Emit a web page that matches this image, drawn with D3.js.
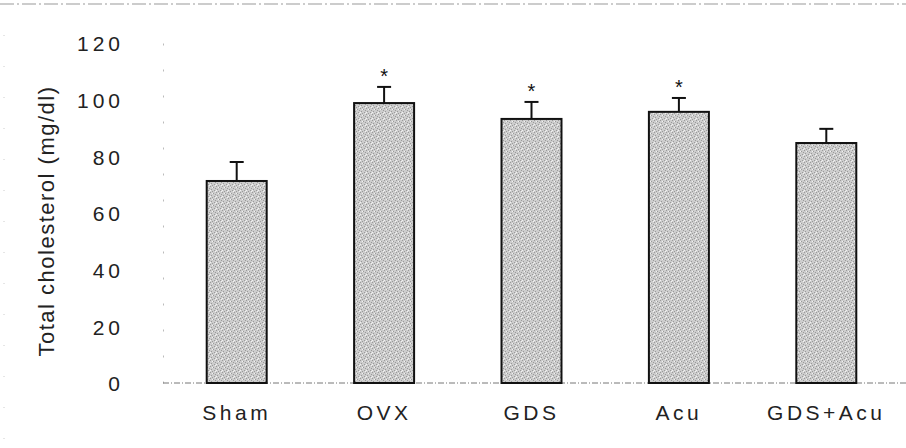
<!DOCTYPE html>
<html><head><meta charset="utf-8">
<script src="https://cdn.jsdelivr.net/npm/d3@7"></script>
<style>body{margin:0;background:#fff}svg{display:block;font-family:"Liberation Sans",Arial,sans-serif}</style>
</head><body><svg id="c" width="906" height="448"></svg>
<script>
const categories = ["Sham","OVX","GDS","Acu","GDS+Acu"];
const means = [71.3, 98.8, 93.2, 95.7, 84.7];
const errors = [6.7, 5.7, 6.0, 4.9, 5.0];
const significant = [false, true, true, true, false];
const yTicks = [0,20,40,60,80,100,120];
const yTitle = "Total cholesterol (mg/dl)";

const svg = d3.select("#c");
const x = d3.scaleBand().domain(categories).range([163, 900]).paddingInner(0.593).paddingOuter(0.2965);
const y = d3.scaleLinear().domain([0,120]).range([383, 43]);

// stipple pattern (deterministic)
const defs = svg.append("defs");
const pat = defs.append("pattern").attr("id","stip").attr("patternUnits","userSpaceOnUse").attr("width",6).attr("height",6);
pat.append("rect").attr("width",6).attr("height",6).attr("fill","#cdcdcd");
[[0,0],[3,1],[1,3],[4,4],[2,5],[5,2]].forEach(([a,b])=>pat.append("rect").attr("x",a).attr("y",b).attr("width",1).attr("height",1).attr("fill","#9a9a9a"));
[[2,1],[5,5],[0,4]].forEach(([a,b])=>pat.append("rect").attr("x",a).attr("y",b).attr("width",1).attr("height",1).attr("fill","#f2f2f2"));

// frame lines
svg.append("line").attr("x1",0).attr("x2",906).attr("y1",4).attr("y2",4).attr("stroke","#999").attr("stroke-width",1).attr("stroke-dasharray","14,3,2,3");
svg.append("line").attr("x1",4).attr("x2",4).attr("y1",4).attr("y2",440).attr("stroke","#ccc").attr("stroke-width",1).attr("stroke-dasharray","1,30");

// y axis (faint dotted)
const yAxis = d3.axisLeft(y).tickValues(yTicks).tickSize(0).tickPadding(39);
const gy = svg.append("g").attr("transform","translate(163,0)").call(yAxis);
gy.select(".domain").attr("stroke","#bbb").attr("stroke-dasharray","2,24");
gy.selectAll("text").attr("font-size",21).attr("fill","#222").attr("letter-spacing","4px").attr("dy","0.38em");

// baseline
svg.append("line").attr("x1",163).attr("x2",906).attr("y1",y(0)).attr("y2",y(0)).attr("stroke","#777").attr("stroke-width",1).attr("stroke-dasharray","6,2,1,2");

// bars
svg.selectAll("rect.bar").data(categories).join("rect").attr("class","bar")
  .attr("x",d=>x(d)).attr("width",x.bandwidth())
  .attr("y",(d,i)=>y(means[i])).attr("height",(d,i)=>y(0)-y(means[i]))
  .attr("fill","url(#stip)").attr("stroke","#111").attr("stroke-width",2);

// error bars
const cap = 7;
categories.forEach((c,i)=>{
  const cx = x(c)+x.bandwidth()/2;
  svg.append("line").attr("x1",cx).attr("x2",cx).attr("y1",y(means[i])).attr("y2",y(means[i]+errors[i])).attr("stroke","#111").attr("stroke-width",2);
  svg.append("line").attr("x1",cx-cap).attr("x2",cx+cap).attr("y1",y(means[i]+errors[i])).attr("y2",y(means[i]+errors[i])).attr("stroke","#111").attr("stroke-width",2);
  if(significant[i]) svg.append("text").attr("x",cx).attr("y",y(means[i]+errors[i])-4).attr("text-anchor","middle").attr("font-size",20).attr("fill","#111").text("*");
});

// x labels
const xAxis = d3.axisBottom(x).tickSize(0).tickPadding(22);
const gx = svg.append("g").attr("transform",`translate(0,${y(0)})`).call(xAxis);
gx.select(".domain").remove();
gx.selectAll("text").attr("font-size",21).attr("fill","#222").attr("letter-spacing","3.5px");

// y title
svg.append("text").attr("transform","translate(54,221) rotate(-90)").attr("text-anchor","middle").attr("font-size",22).attr("letter-spacing","1.5px").attr("fill","#222").text(yTitle);
</script></body></html>
